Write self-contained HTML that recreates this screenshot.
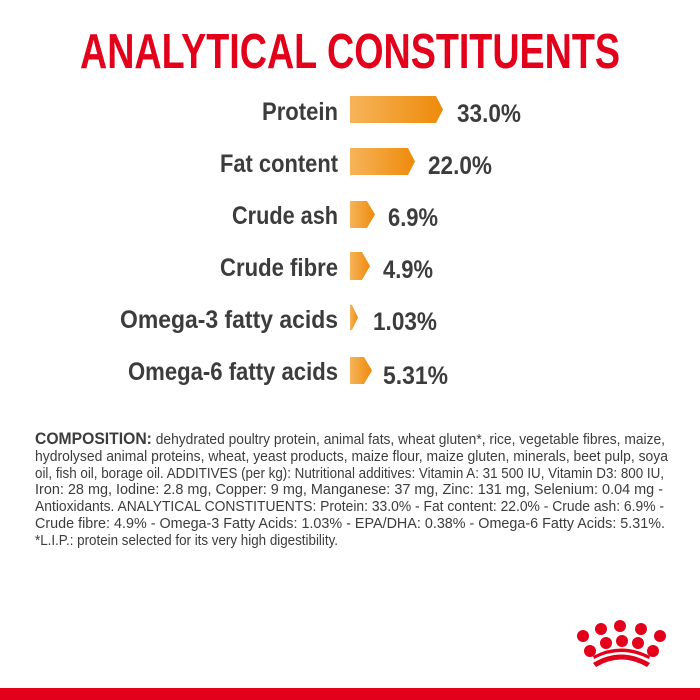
<!DOCTYPE html>
<html><head><meta charset="utf-8"><style>html,body{margin:0;padding:0;background:#fff}svg{display:block}</style></head>
<body>
<svg width="700" height="700" viewBox="0 0 700 700" xmlns="http://www.w3.org/2000/svg">
<defs>
<linearGradient id="g" x1="0" x2="1" y1="0" y2="0">
<stop offset="0" stop-color="#f6b45a"/><stop offset="1" stop-color="#ee8a0a"/>
</linearGradient>
</defs>
<rect width="700" height="700" fill="#fff"/>
<text x="80" y="68" font-family="Liberation Sans, sans-serif" font-weight="bold" font-size="49" fill="#e2001a" textLength="540" lengthAdjust="spacingAndGlyphs">ANALYTICAL CONSTITUENTS</text>
<g font-family="Liberation Sans, sans-serif" font-weight="bold" font-size="25" fill="#3c3c3c">
<text x="262" y="120" textLength="76" lengthAdjust="spacingAndGlyphs">Protein</text>
<text x="220" y="172" textLength="118" lengthAdjust="spacingAndGlyphs">Fat content</text>
<text x="232" y="224" textLength="106" lengthAdjust="spacingAndGlyphs">Crude ash</text>
<text x="220" y="276" textLength="118" lengthAdjust="spacingAndGlyphs">Crude fibre</text>
<text x="120" y="328" textLength="218" lengthAdjust="spacingAndGlyphs">Omega-3  fatty acids</text>
<text x="128" y="380" textLength="210" lengthAdjust="spacingAndGlyphs">Omega-6 fatty acids</text>
<text x="457" y="122" textLength="64" lengthAdjust="spacingAndGlyphs">33.0%</text>
<text x="428" y="174" textLength="64" lengthAdjust="spacingAndGlyphs">22.0%</text>
<text x="388" y="226" textLength="50" lengthAdjust="spacingAndGlyphs">6.9%</text>
<text x="383" y="278" textLength="50" lengthAdjust="spacingAndGlyphs">4.9%</text>
<text x="373" y="330" textLength="64" lengthAdjust="spacingAndGlyphs">1.03%</text>
<text x="383" y="384" textLength="65" lengthAdjust="spacingAndGlyphs">5.31%</text>
</g>
<g fill="url(#g)">
<polygon points="350,96 436,96 443,109.5 436,123 350,123"/>
<polygon points="350,148 408,148 415,161.5 408,175 350,175"/>
<polygon points="350,201 367,201 375,214.5 367,228 350,228"/>
<polygon points="350,252 362,252 370,266 362,280 350,280"/>
<polygon points="350,305 352,305 358,317.5 352,330 350,330"/>
<polygon points="350,357 364,357 372,370.5 364,384 350,384"/>
</g>
<g font-family="Liberation Sans, sans-serif" font-size="14.5" fill="#3c3c3c">
<text x="35" y="444" textLength="630" lengthAdjust="spacingAndGlyphs"><tspan font-weight="bold" font-size="16.5">COMPOSITION:</tspan> dehydrated poultry protein, animal fats, wheat gluten*, rice, vegetable fibres, maize,</text>
<text x="35" y="461" textLength="633" lengthAdjust="spacingAndGlyphs">hydrolysed animal proteins, wheat, yeast products, maize flour, maize gluten, minerals, beet pulp, soya</text>
<text x="35" y="478" textLength="629" lengthAdjust="spacingAndGlyphs">oil, fish oil, borage oil. ADDITIVES (per kg): Nutritional additives: Vitamin A: 31 500 IU, Vitamin D3: 800 IU,</text>
<text x="35" y="494" textLength="628" lengthAdjust="spacingAndGlyphs">Iron: 28 mg, Iodine: 2.8 mg, Copper: 9 mg, Manganese: 37 mg, Zinc: 131 mg, Selenium: 0.04 mg -</text>
<text x="35" y="511" textLength="629" lengthAdjust="spacingAndGlyphs">Antioxidants. ANALYTICAL CONSTITUENTS: Protein: 33.0% - Fat content: 22.0% - Crude ash: 6.9% -</text>
<text x="35" y="528" textLength="630" lengthAdjust="spacingAndGlyphs">Crude fibre: 4.9% - Omega-3 Fatty Acids: 1.03% - EPA/DHA: 0.38% - Omega-6 Fatty Acids: 5.31%.</text>
<text x="35" y="545" textLength="303" lengthAdjust="spacingAndGlyphs">*L.I.P.: protein selected for its very high digestibility.</text>
</g>
<g fill="#e2001a">
<circle cx="583" cy="636" r="6"/><circle cx="601" cy="629" r="6"/><circle cx="620" cy="626" r="6"/><circle cx="641" cy="629" r="6"/><circle cx="660" cy="636" r="6"/>
<circle cx="590" cy="651" r="6"/><circle cx="606" cy="643" r="6"/><circle cx="622" cy="641" r="6"/><circle cx="638" cy="643" r="6"/><circle cx="653" cy="651" r="6"/>
<path d="M593 663 Q621 646 650 663 L647 667 Q621 652 596 667 Z"/>
<path d="M593 656 Q621 641 650 656 L649 659 Q621 645 594 659 Z"/>
<rect x="0" y="688" width="700" height="12"/>
</g>
</svg>
</body></html>
